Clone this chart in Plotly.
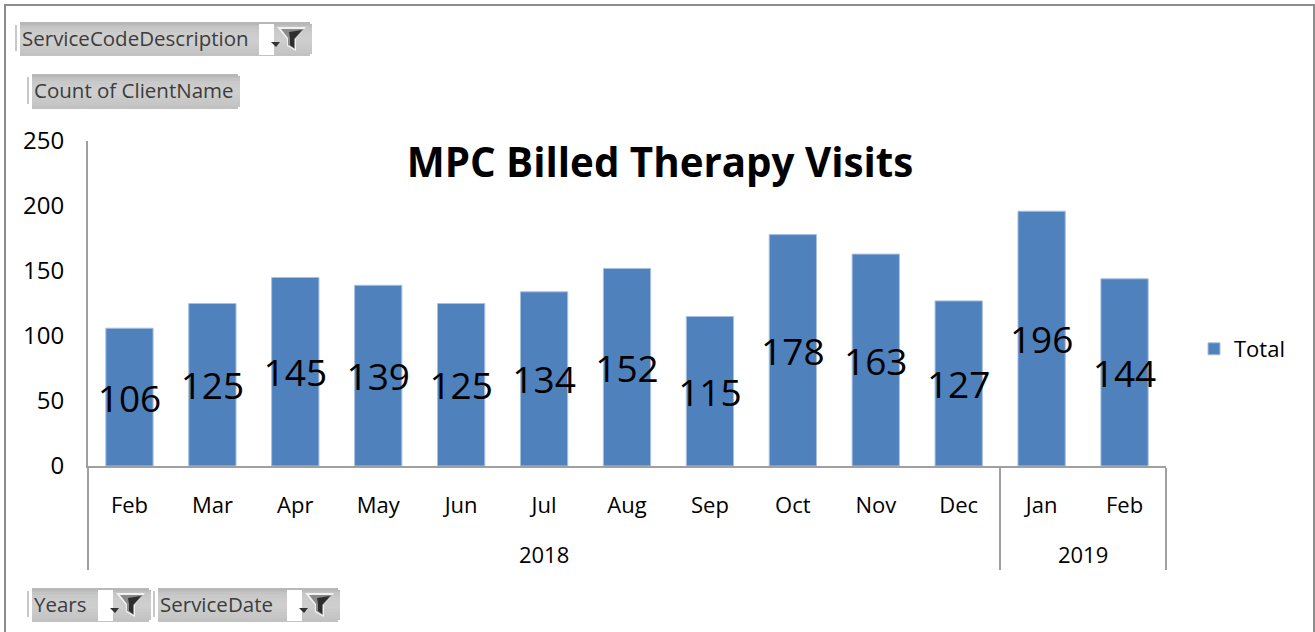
import plotly.graph_objects as go

years = ["2018"] * 11 + ["2019"] * 2
months = ["Feb", "Mar", "Apr", "May", "Jun", "Jul", "Aug", "Sep", "Oct", "Nov", "Dec", "Jan", "Feb"]
visits = [106, 125, 145, 139, 125, 134, 152, 115, 178, 163, 127, 196, 144]
title_text = "MPC Billed Therapy Visits"
series_name = "Total"
y_ticks = [0, 50, 100, 150, 200, 250]

W, H = 1315, 632
FONT = "Open Sans"
ML, MR, MT, MB = 88, 149, 141, 166


def X(px):
    return (px - ML) / (W - ML - MR)


def Y(py):
    return 1 - (py - MT) / (H - MT - MB)


shapes, annotations = [], []


def rect(x0, y0, x1, y1, fill, line=None, lw=0):
    shapes.append(dict(type="rect", xref="paper", yref="paper", layer="above",
                       x0=X(x0), x1=X(x1), y0=Y(y0), y1=Y(y1), fillcolor=fill,
                       line=dict(color=line or fill, width=lw)))


def poly(pts, fill):
    shapes.append(dict(type="path", xref="paper", yref="paper", layer="above",
                       path="M " + " L ".join(f"{X(a)},{Y(b)}" for a, b in pts) + " Z",
                       fillcolor=fill, line=dict(width=0)))


def funnel(x, y):
    # pale funnel body with a dark core, as in the pivot-field filter icon
    poly([(x, y), (x + 29, y), (x + 19, y + 12), (x + 19, y + 24), (x + 10, y + 19), (x + 10, y + 12)], "#f2f2f2")
    poly([(x + 4, y + 2), (x + 27, y + 2), (x + 18, y + 12), (x + 18, y + 22), (x + 11, y + 18), (x + 11, y + 11)], "#8a8a8a")
    poly([(x + 12, y + 5), (x + 25, y + 3), (x + 17, y + 12), (x + 17, y + 21), (x + 13, y + 18), (x + 13, y + 11)], "#2e2e2e")


GRAD = ["#b8b8b8", "#c4c4c4", "#c9c9c9", "#cccccc", "#cecece", "#cecece", "#cbcbcb", "#c8c8c8", "#c6c6c6", "#c2c2c2"]


def button(x0, y0, x1, y1, label, has_filter):
    rect(x0 - 5, y0 + 3, x0 - 3, y1 - 5, "#c8c8c8")
    h = (y1 - y0) / len(GRAD)
    for i, c in enumerate(GRAD):
        # strips run to the bottom so no seams show between them
        rect(x0, y0 + i * h, x1, y1, c)
    rect(x1 - 2, y0, x1 + 0.5, y0 + 2, "#ffffff")
    rect(x1 - 2, y1 - 2, x1 + 0.5, y1 + 0.5, "#ffffff")
    annotations.append(dict(text=label, xref="paper", yref="paper", x=X(x0), y=Y((y0 + y1) / 2 - 1),
                            xanchor="left", yanchor="middle", showarrow=False,
                            font=dict(family=FONT, size=20.5, color="#3c3c3c")))
    if has_filter:
        rect(x1 - 53, y0 + 2, x1 - 38, y1 - 1, "#ffffff")
        poly([(x1 - 41, y0 + 20), (x1 - 32, y0 + 20), (x1 - 36, y0 + 25)], "#333333")
        funnel(x1 - 35, y0 + 5)


# outer frame
rect(5, 5, 1314, 640, "rgba(0,0,0,0)", "#8c8c8c", 2)
button(20, 22, 312, 56, "ServiceCodeDescription", True)
button(32, 74, 240, 109, "Count of ClientName", False)
button(32, 588, 151, 622, "Years", True)
button(158, 588, 340, 622, "ServiceDate", True)

# Plotly merges repeated inner categories, so the second "Feb" carries a zero-width mark.
seen = set()
month_keys = []
for m in months:
    month_keys.append(m + "\u200b" if m in seen else m)
    seen.add(m)
# Leading line break and a baseline shift reproduce the spacing of the year row.
year_keys = [f'<br><sub><sub><span style="font-size:22px">{y}</span></sub></sub>' for y in years]

fig = go.Figure(go.Bar(
    x=[year_keys, month_keys], y=visits, name=series_name, showlegend=True,
    marker=dict(color="#4f81bd", line=dict(color="#a8c0e0", width=1)),
    text=visits, textposition="inside", insidetextanchor="middle",
    constraintext="none", textangle=0,
    textfont=dict(family=FONT, size=37, color="#000000"),
))
fig.update_layout(
    width=W, height=H, autosize=False,
    margin=dict(l=ML, r=MR, t=MT, b=MB, pad=0),
    paper_bgcolor="#ffffff", plot_bgcolor="#ffffff",
    bargap=0.43,
    font=dict(family=FONT, color="#000000"),
    title=dict(text=f"<b>{title_text}</b>", xref="paper", yref="container",
               x=X(660), y=1 - 163 / H, xanchor="center", yanchor="middle",
               font=dict(family=FONT, size=40.3, color="#000000")),
    legend=dict(x=X(1194), y=Y(349), xanchor="left", yanchor="middle",
                font=dict(family=FONT, size=22, color="#000000"),
                bgcolor="rgba(0,0,0,0)"),
    shapes=shapes, annotations=annotations,
)
fig.update_xaxes(showgrid=False, zeroline=False, showline=True, linecolor="#a0a0a0", linewidth=2,
                 ticks="", ticklabelstandoff=19,
                 dividercolor="#a0a0a0", dividerwidth=2,
                 tickfont=dict(family=FONT, size=22, color="#000000"))
fig.update_yaxes(range=[0, 250], tickvals=y_ticks, showgrid=False, zeroline=False, showline=True,
                 linecolor="#a0a0a0", linewidth=2, ticks="", ticklabelstandoff=17,
                 tickfont=dict(family=FONT, size=24, color="#000000"))

fig.write_html("out.html", config=dict(displayModeBar=False),
               post_script="document.body.style.margin='0';document.documentElement.style.overflow='hidden';")
